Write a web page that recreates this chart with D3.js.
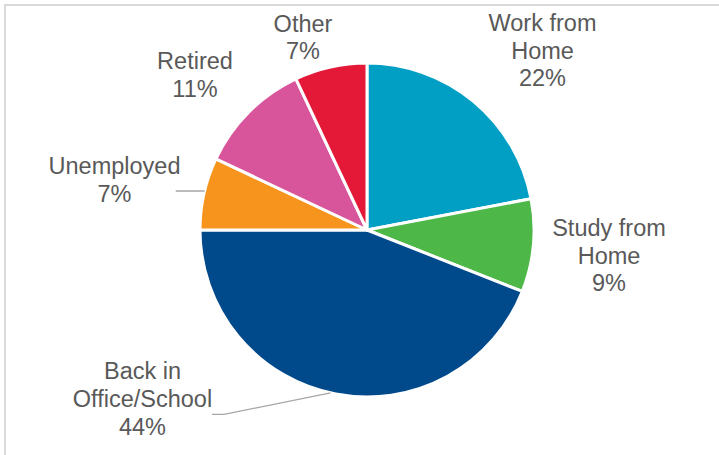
<!DOCTYPE html>
<html>
<head>
<meta charset="utf-8">
<script src="https://cdn.jsdelivr.net/npm/d3@7"></script>
<style>
  html, body { margin: 0; padding: 0; background: #ffffff; }
  svg { display: block; }
</style>
</head>
<body>
<div id="chart"></div>
<script>
// Status categories and their shares (percent)
const categories = ["Work from Home", "Study from Home", "Back in Office/School", "Unemployed", "Retired", "Other"];
const shares = [22, 9, 44, 7, 11, 7];
const sliceColors = ["#009FC3", "#4DB748", "#004A8C", "#F7941E", "#D9559B", "#E31937"];

// Label text lines (category words wrapped as drawn)
const labelLines = [
  ["Work from", "Home"],
  ["Study from", "Home"],
  ["Back in", "Office/School"],
  ["Unemployed"],
  ["Retired"],
  ["Other"]
];

// Layout
const W = 719, H = 455;
const cx = 367, cy = 230, R = 167;
const fontSize = 23.5, lineGap = 27.7;
// label centre x and first baseline y, per category
const labelPos = [
  [542.5, 31], [609, 236], [142.5, 379.3], [114.5, 174], [195, 69], [303, 31.7]
];
// leader lines: label-side start, elbow, and angle on the rim (degrees clockwise from 12 o'clock)
const leaders = [
  { i: 2, start: [212, 414.3], elbow: [224, 414.3], angle: 192.6 },
  { i: 3, start: [175.7, 191], elbow: [190, 191], angle: 283.5 }
];

const svg = d3.select("#chart").append("svg")
  .attr("width", W).attr("height", H);

// chart frame
svg.append("rect")
  .attr("x", 5).attr("y", 5)
  .attr("width", W).attr("height", H)
  .attr("fill", "none")
  .attr("stroke", "#d9d9d9")
  .attr("stroke-width", 2);

const pie = d3.pie().sort(null).value(d => d)(shares);
const arc = d3.arc().innerRadius(0).outerRadius(R);

const g = svg.append("g").attr("transform", `translate(${cx},${cy})`);
g.selectAll("path.slice")
  .data(pie)
  .join("path")
  .attr("class", "slice")
  .attr("d", arc)
  .attr("fill", (d, i) => sliceColors[i])
  .attr("stroke", "#ffffff")
  .attr("stroke-width", 3)
  .attr("stroke-linejoin", "round");

// leader lines
const line = d3.line();
leaders.forEach(l => {
  const a = l.angle * Math.PI / 180;
  const rim = [cx + R * Math.sin(a), cy - R * Math.cos(a)];
  svg.append("path")
    .attr("d", line([l.start, l.elbow, rim]))
    .attr("fill", "none")
    .attr("stroke", "#a6a6a6")
    .attr("stroke-width", 1.3);
});

// data labels
const labels = svg.selectAll("text.lbl")
  .data(pie)
  .join("text")
  .attr("class", "lbl")
  .attr("text-anchor", "middle")
  .attr("font-family", "'Liberation Sans', Arial, sans-serif")
  .attr("font-size", fontSize)
  .attr("fill", "#595959");

labels.each(function(d, i) {
  const t = d3.select(this);
  const [x, y] = labelPos[i];
  const lines = labelLines[i].concat([d3.format("d")(d.data) + "%"]);
  lines.forEach((s, k) => {
    t.append("tspan")
      .attr("x", x)
      .attr("y", y + k * lineGap)
      .text(s);
  });
});
</script>
</body>
</html>
